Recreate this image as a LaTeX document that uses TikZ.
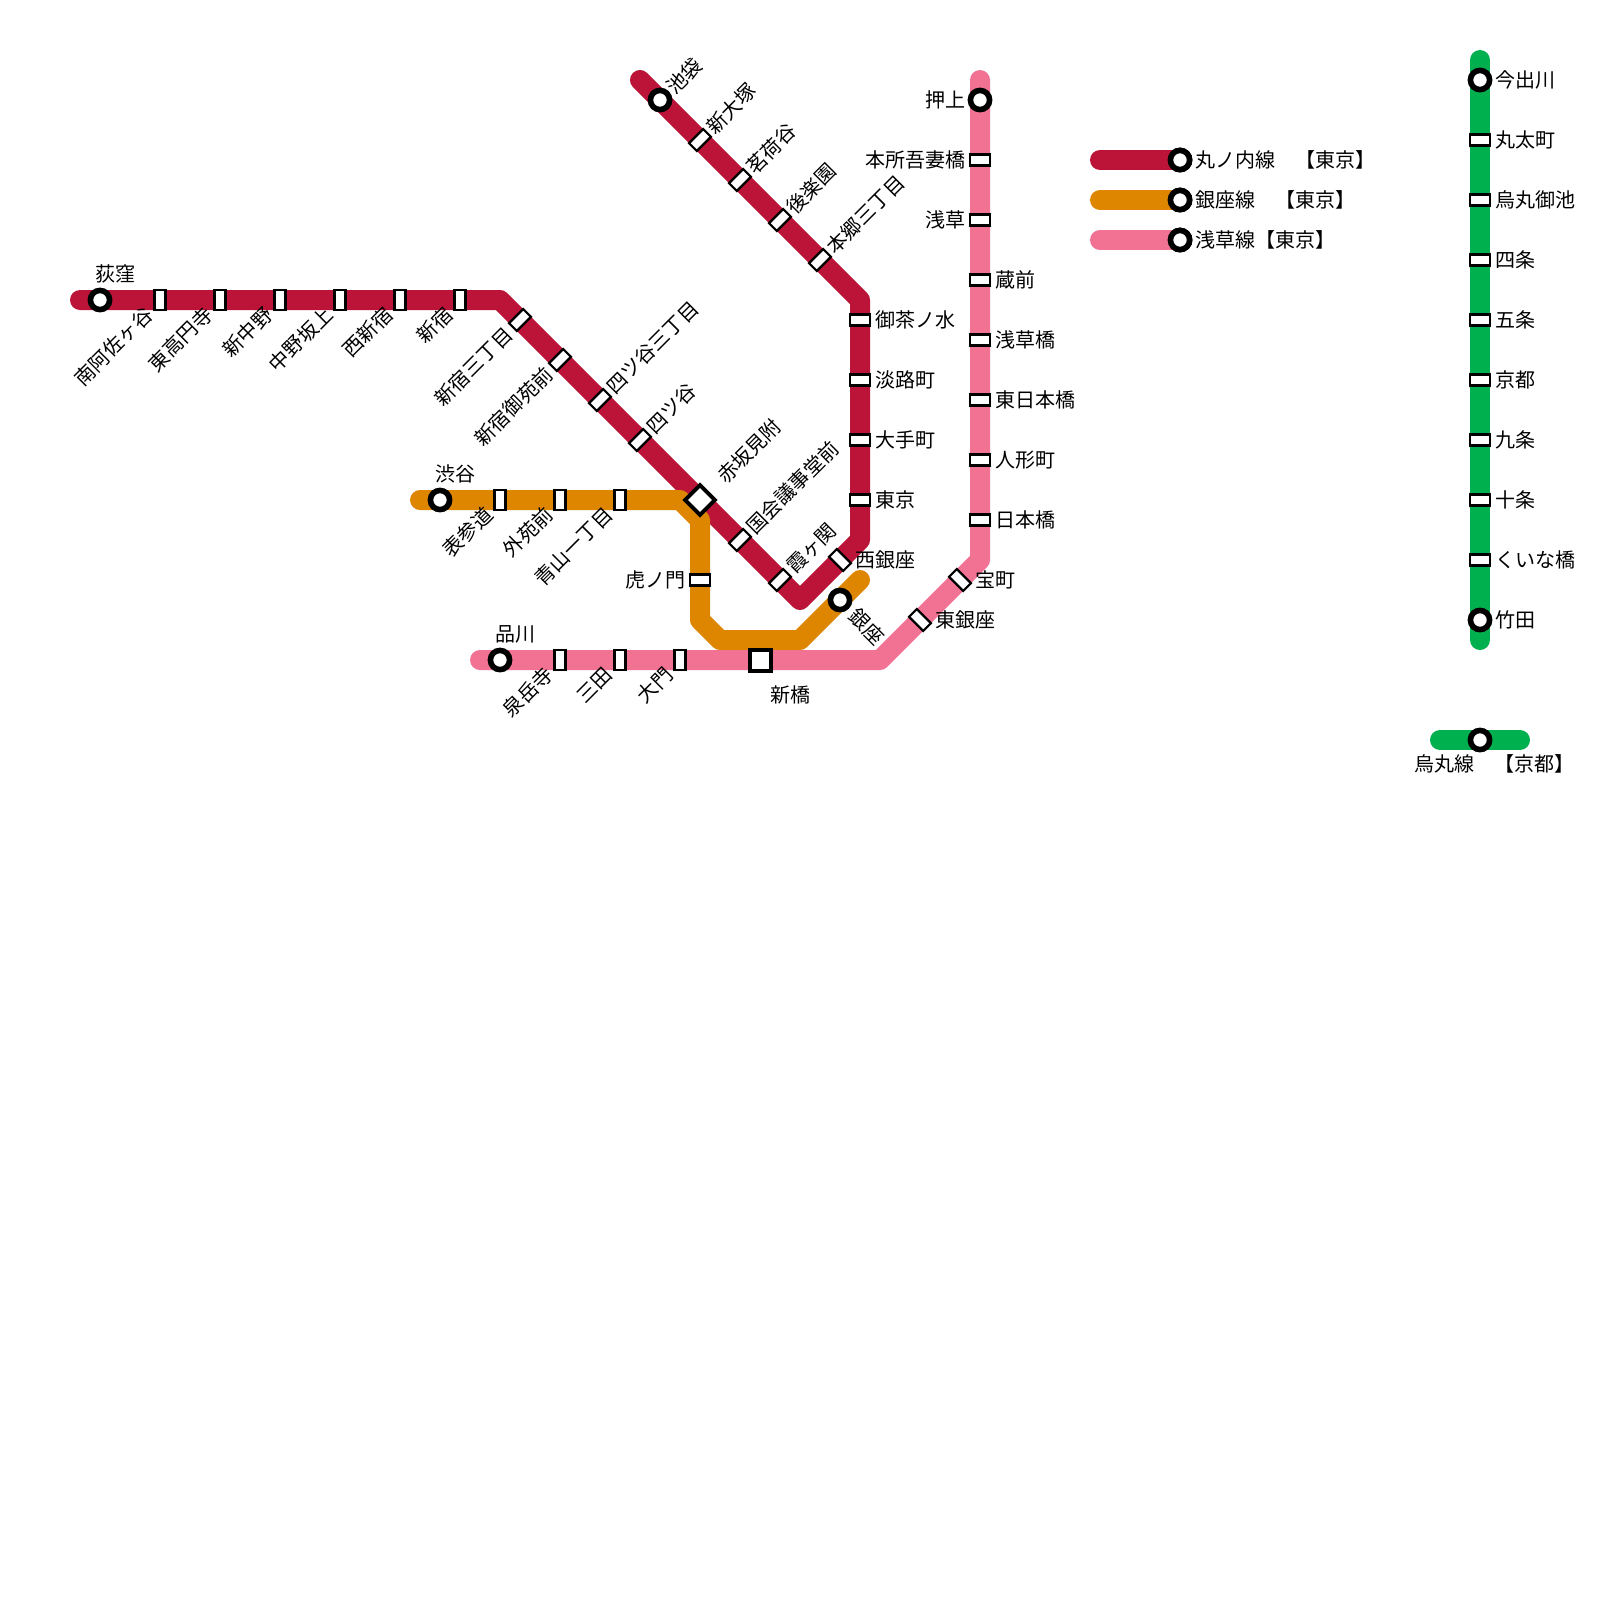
\documentclass[tikz,border=0pt]{standalone}
\usepackage{fontspec}
\setmainfont{Noto Sans CJK JP}
\definecolor{maruc}{HTML}{BC1339}
\definecolor{ginzac}{HTML}{DF8600}
\definecolor{asakc}{HTML}{F27294}
\definecolor{karac}{HTML}{00B04F}

\begin{document}
\begin{tikzpicture}[x=1cm,y=-1cm,font=\fontsize{28.45}{34}\selectfont]
\tikzset{rail/.style={line width=1cm,line join=round,line cap=round},
  stn/.style={draw=black,fill=white,line width=0.11cm,inner sep=0pt,outer sep=0pt,minimum width=1cm,minimum height=0.55cm},
  stnv/.style={stn,rotate=90},
  stnd/.style={stn,rotate=45},
  stnu/.style={stn,rotate=-45},
  term/.style={circle,draw=black,fill=white,line width=0.28cm,inner sep=0pt,outer sep=0pt,minimum size=0.96cm},
  hub/.style={rectangle,draw=black,fill=white,line width=0.2cm,inner sep=0pt,outer sep=0pt,minimum size=1.05cm},
  lbr/.style={anchor=west,inner sep=0pt},
  lbl/.style={anchor=east,inner sep=0pt},
  lbur/.style={anchor=west,inner sep=0pt,rotate=45},
  lbdl/.style={anchor=east,inner sep=0pt,rotate=45},
  lbdr/.style={anchor=west,inner sep=0pt,rotate=-45}}
\useasboundingbox (0,0) rectangle (80,80);
% ---------- bends and line ends ----------
\coordinate (maruA) at (4,15);
\coordinate (maruB) at (25,15);
\coordinate (maruC) at (40,30);
\coordinate (maruD) at (43,27);
\coordinate (maruE) at (43,15);
\coordinate (maruF) at (32,4);
\coordinate (ginA) at (21,25);
\coordinate (ginB) at (34,25);
\coordinate (ginC) at (35,26);
\coordinate (ginD) at (35,31);
\coordinate (ginE) at (36,32);
\coordinate (ginF) at (40,32);
\coordinate (ginG) at (43,29);
\coordinate (asaA) at (24,33);
\coordinate (asaB) at (44,33);
\coordinate (asaC) at (49,28);
\coordinate (asaD) at (49,4);
\coordinate (karaA) at (74,3);
\coordinate (karaB) at (74,32);
% ---------- lines ----------
\draw[rail,maruc] (maruA) -- (maruB) -- (maruC) -- (maruD) -- (maruE) -- (maruF);
\draw[rail,ginzac] (ginA) -- (ginB) -- (ginC) -- (ginD) -- (ginE) -- (ginF) -- (ginG);
\draw[rail,asakc] (asaA) -- (asaB) -- (asaC) -- (asaD);
\draw[rail,karac] (karaA) -- (karaB);
% ---------- Marunouchi ----------
\node[term] (ogikubo) at (5,15) {};
\node[anchor=west,inner sep=0pt] (ogikuboT) at (4.75,13.72) {荻窪};
\foreach \x/\t in {8/南阿佐ヶ谷,11/東高円寺,14/新中野,17/中野坂上,20/西新宿,23/新宿}{
  \node[stnv] (m\x) at (\x,15) {};
  \node[lbdl] at (\x-.55,15.55) {\t};}
\foreach \x/\y/\t in {26/16/新宿三丁目,28/18/新宿御苑前}{
  \node[stnd] (m\x) at (\x,\y) {};
  \node[lbdl] at (\x-.55,\y+.55) {\t};}
\foreach \x/\y/\t in {30/20/四ツ谷三丁目,32/22/四ツ谷,37/27/国会議事堂前,39/29/霞ヶ関,41/13/本郷三丁目,39/11/後楽園,37/9/茗荷谷,35/7/新大塚}{
  \node[stnd] (m\x) at (\x,\y) {};
  \node[lbur] at (\x+.5,\y-.5) {\t};}
\node[term] (ikebukuro) at (33,5) {};
\node[lbur] (ikebukuroT) at (33.5,4.5) {池袋};
\node[stnu] (nishiginza) at (42,28) {};
\node[lbr] (nishiginzaT) at (42.75,28) {西銀座};
\foreach \y/\t in {16/御茶ノ水,19/淡路町,22/大手町,25/東京}{
  \node[stn] (m\y) at (43,\y) {};
  \node[lbr] at (43.75,\y) {\t};}
% ---------- Ginza ----------
\node[term] (shibuya) at (22,25) {};
\node[anchor=west,inner sep=0pt] (shibuyaT) at (21.75,23.72) {渋谷};
\foreach \x/\t in {25/表参道,28/外苑前,31/青山一丁目}{
  \node[stnv] (g\x) at (\x,25) {};
  \node[lbdl] at (\x-.55,25.55) {\t};}
\node[stn] (toranomon) at (35,29) {};
\node[lbl] (toranomonT) at (34.27,29) {虎ノ門};
\node[term] (ginza) at (42,30) {};
\node[lbdr] (ginzaT) at (42.62,30.62) {銀座};
% ---------- Akasaka-mitsuke ----------
\node[hub,rotate=45] (akasaka) at (35,25) {};
\node[lbur] (akasakaT) at (36.03,23.97) {赤坂見附};
% ---------- Asakusa ----------
\node[term] (shinagawa) at (25,33) {};
\node[anchor=west,inner sep=0pt] (shinagawaT) at (24.75,31.72) {品川};
\foreach \x/\t in {28/泉岳寺,31/三田,34/大門}{
  \node[stnv] (a\x) at (\x,33) {};
  \node[lbdl] at (\x-.55,33.55) {\t};}
\node[hub] (shinbashi) at (38,33) {};
\node[anchor=west,inner sep=0pt] (shinbashiT) at (38.5,34.75) {新橋};
\foreach \x/\y/\t in {46/31/東銀座,48/29/宝町}{
  \node[stnu] (a\x) at (\x,\y) {};
  \node[lbr] at (\x+.75,\y) {\t};}
\foreach \y/\t in {26/日本橋,23/人形町,20/東日本橋,17/浅草橋,14/蔵前}{
  \node[stn] (a\y) at (49,\y) {};
  \node[lbr] at (49.75,\y) {\t};}
\foreach \y/\t in {11/浅草,8/本所吾妻橋}{
  \node[stn] (a\y) at (49,\y) {};
  \node[lbl] at (48.27,\y) {\t};}
\node[term] (oshiage) at (49,5) {};
\node[lbl] (oshiageT) at (48.27,5) {押上};
% ---------- Karasuma ----------
\node[term] (imadegawa) at (74,4) {};
\node[lbr] (imadegawaT) at (74.75,4) {今出川};
\foreach \y/\t in {7/丸太町,10/烏丸御池,13/四条,16/五条,19/京都,22/九条,25/十条,28/くいな橋}{
  \node[stn] (k\y) at (74,\y) {};
  \node[lbr] at (74.75,\y) {\t};}
\node[term] (takeda) at (74,31) {};
\node[lbr] (takedaT) at (74.75,31) {竹田};
% ---------- legend ----------
\foreach \y/\c/\n/\t in {8/maruc/lmaru/丸ノ内線　【東京】,10/ginzac/lgin/銀座線　【東京】,12/asakc/lasa/浅草線【東京】}{
  \coordinate (\n A) at (55,\y);
  \node[term] (\n) at (59,\y) {};
  \draw[rail,\c] (\n A) -- (\n.center);
  \node[term] at (\n) {};
  \node[lbr] at (59.75,\y) {\t};}
\coordinate (lkaraA) at (72,37);
\coordinate (lkaraB) at (76,37);
\draw[rail,karac] (lkaraA) -- (lkaraB);
\node[term] (lkara) at (74,37) {};
\node[anchor=west,inner sep=0pt] (lkaraT) at (70.72,38.2) {烏丸線　【京都】};
\end{tikzpicture}
\end{document}
